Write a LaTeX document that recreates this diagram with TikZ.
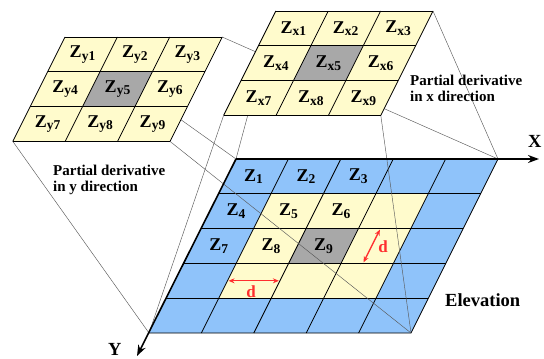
\documentclass[tikz,border=0pt]{standalone}
\usepackage{fontspec}
\setmainfont{Liberation Serif}[BoldFont={Liberation Serif Bold}]
\usetikzlibrary{arrows.meta}
\definecolor{cellBlue}{HTML}{8FC3FA}
\definecolor{cellYellow}{HTML}{FFFBCC}
\definecolor{cellGray}{HTML}{A8A8A8}
\definecolor{dimRed}{HTML}{FF2E2E}
\definecolor{projGray}{HTML}{5A5A5A}
\newcommand{\zsub}[1]{Z\raisebox{-2.5pt}{\fontsize{13.5}{13.5}\selectfont #1}}

\begin{document}
\begin{tikzpicture}[x=1pt, y=-1pt,
    zlab/.style={font=\rmfamily\bfseries\fontsize{18}{18}\selectfont, inner sep=0pt},
    note/.style={font=\rmfamily\bfseries\fontsize{15}{16.5}\selectfont, align=left, inner sep=0pt},
    big/.style={font=\rmfamily\bfseries\fontsize{18.5}{18.5}\selectfont, inner sep=0pt},
    dlab/.style={font=\rmfamily\bfseries\fontsize{17}{17}\selectfont, text=dimRed, inner sep=0pt},
    slant/.style={x={(52.4pt,0pt)}, y={(-17.4pt,-34.8pt)}},
    gridline/.style={line width=0.8pt},
    proj/.style={draw=projGray, line width=0.45pt},
    axis/.style={line width=1.6pt, -{Stealth[length=11pt,width=8pt]}},
    dim/.style={draw=dimRed, line width=1.3pt, {Stealth[length=6pt,width=5pt]}-{Stealth[length=6pt,width=5pt]}}
]
    \useasboundingbox (0,0) rectangle (544,359);

    % Elevation grid
    \begin{scope}[shift={(236,159)}, slant]
        \fill[cellBlue] (0,0) -- (5,0) -- (5,5) -- (0,5) -- cycle;
        \fill[cellYellow] (1,1) -- (4,1) -- (4,4) -- (1,4) -- cycle;
        \fill[cellGray] (2,2) -- (3,2) -- (3,3) -- (2,3) -- cycle;
        \foreach \i in {1,...,4} {
            \draw[gridline] (\i,0) -- (\i,5);
            \draw[gridline] (0,\i) -- (5,\i);
        }
        \draw[gridline] (5,0) -- (5,5) -- (0,5);
        \coordinate (m_tl) at (0,0);
        \coordinate (m_tr) at (5,0);
        \coordinate (m_bl) at (0,5);
        \coordinate (m_br) at (5,5);
        \foreach \k in {0,...,8} {
            \pgfmathtruncatemacro{\c}{mod(\k,3)}
            \pgfmathtruncatemacro{\r}{\k/3}
            \pgfmathtruncatemacro{\n}{\k+1}
            \node[zlab] (z\n) at (\c+0.5,\r+0.5) {\zsub{\n}};
        }
        % spacing d
        \coordinate (dh_a) at (1.02,3.5);
        \coordinate (dh_b) at (1.98,3.5);
        \coordinate (dv_a) at (3.42,2.03);
        \coordinate (dv_b) at (3.42,2.97);
    \end{scope}
    \draw[dim] (dh_a) -- (dh_b);
    \draw[dim] (dv_a) -- (dv_b);
    \node[dlab, anchor=base] (d_h) at (251,297) {d};
    \node[dlab, anchor=base] (d_v) at (383,252) {d};

    % Derivative windows
    \foreach \g/\gx/\gy in {y/65/37, x/275.8/11} {
        \begin{scope}[shift={(\gx,\gy)}, slant]
            \coordinate (\g_tl) at (0,0);
            \coordinate (\g_tr) at (3,0);
            \coordinate (\g_bl) at (0,3);
            \coordinate (\g_br) at (3,3);
        \end{scope}
        \draw[proj] (\g_tl) -- (m_tl) (\g_tr) -- (m_tr) (\g_bl) -- (m_bl) (\g_br) -- (m_br);
        \begin{scope}[shift={(\gx,\gy)}, slant]
            \fill[cellYellow] (0,0) -- (3,0) -- (3,3) -- (0,3) -- cycle;
            \fill[cellGray] (1,1) -- (2,1) -- (2,2) -- (1,2) -- cycle;
            \foreach \i in {0,...,3} {
                \draw[gridline] (\i,0) -- (\i,3);
                \draw[gridline] (0,\i) -- (3,\i);
            }
            \foreach \k in {0,...,8} {
                \pgfmathtruncatemacro{\c}{mod(\k,3)}
                \pgfmathtruncatemacro{\r}{\k/3}
                \pgfmathtruncatemacro{\n}{\k+1}
                \node[zlab] (z\g\n) at (\c+0.5,\r+0.5) {\zsub{\g\n}};
            }
        \end{scope}
    }
    \node[note, anchor=north west] (note_y) at (53,164.5) {Partial derivative\\in y direction};
    \node[note, anchor=north west] (note_x) at (410,74.5) {Partial derivative\\in x direction};
    \node[big, anchor=base west] (elev) at (445,306.5) {Elevation};

    % Axes
    \coordinate (x_end) at (539,159);
    \coordinate (y_end) at (137,356);
    \draw[axis] (m_tl) -- (x_end);
    \draw[axis] (m_tl) -- (y_end);
    \node[big, anchor=base west] (x_lab) at (528,147) {X};
    \node[big, anchor=base west] (y_lab) at (108,355) {Y};
\end{tikzpicture}
\end{document}
